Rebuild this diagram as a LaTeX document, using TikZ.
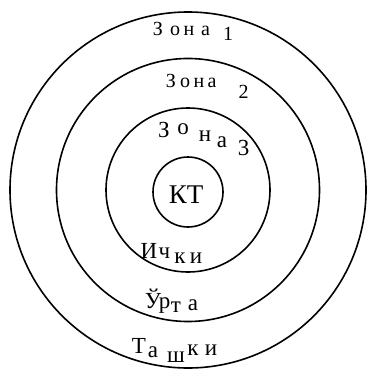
\documentclass[tikz,border=0pt]{standalone}
\usepackage{fontspec}
\setmainfont{Liberation Serif}
\begin{document}
\begin{tikzpicture}[x=1pt,y=-1pt,
  ring/.style={draw=black,line width=1.6pt},
  sm/.style={inner sep=0pt,anchor=base,font=\fontsize{20}{20}\selectfont},
  md/.style={inner sep=0pt,anchor=base,font=\fontsize{23}{23}\selectfont},
  big/.style={inner sep=0pt,anchor=base,font=\fontsize{27}{27}\selectfont}]
\useasboundingbox (0,0) rectangle (367,369);
\draw[ring] (188,190) circle[radius=178];
\draw[ring] (188,190) circle[radius=131.5];
\draw[ring] (188,190) circle[radius=82];
\draw[ring] (188,192) circle[radius=35];
% Zona 1
\node[sm] (z1a) at (158,36) {З};
\node[sm] (z1b) at (175,36) {о};
\node[sm] (z1c) at (189,36) {н};
\node[sm] (z1d) at (205.5,36) {а};
\node[sm] (z1e) at (228,41) {1};
% Zona 2
\node[sm] (z2a) at (171,87) {З};
\node[sm] (z2b) at (185,87) {о};
\node[sm] (z2c) at (199,87) {н};
\node[sm] (z2d) at (212,87) {а};
\node[sm] (z2e) at (243.5,98) {2};
% Zona 3
\node[md] (z3a) at (164,137) {З};
\node[md] (z3b) at (183,134) {о};
\node[md] (z3c) at (205,141) {н};
\node[md] (z3d) at (222,147) {а};
\node[md] (z3e) at (243.5,155) {3};
% KT
\node[big] (kt) at (186,203) {КТ};
% Ichki
\node[md] (i1) at (149,258) {И};
\node[md] (i2) at (164.5,258) {ч};
\node[md] (i3) at (180,263) {к};
\node[md] (i4) at (196,263) {и};
% Urta
\node[md] (u1) at (153,308) {Ў};
\node[md] (u2) at (164.5,308) {р};
\node[md] (u3) at (176,312) {т};
\node[md] (u4) at (193,310) {а};
% Tashki
\node[md] (t1) at (139,353) {Т};
\node[md] (t2) at (153,357) {а};
\node[md] (t3) at (176,362) {ш};
\node[md] (t4) at (193,355) {к};
\node[md] (t5) at (211,355) {и};
\end{tikzpicture}
\end{document}
